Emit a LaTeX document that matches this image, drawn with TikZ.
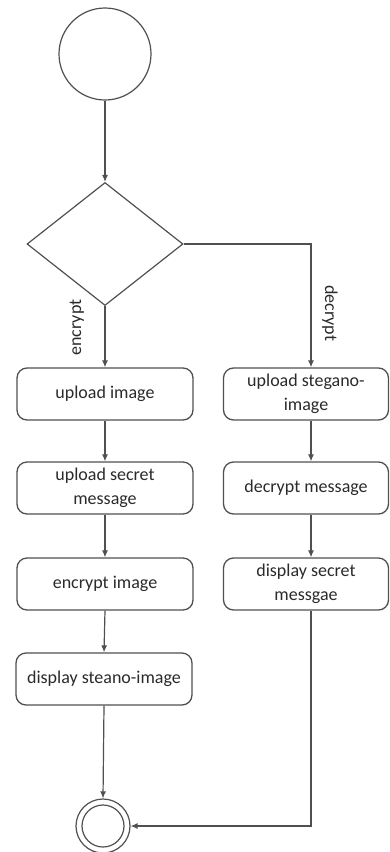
\documentclass[tikz,border=0pt]{standalone}
\usepackage{fontspec}
\setmainfont{Carlito}
\usetikzlibrary{shapes.geometric,arrows.meta,calc}
\definecolor{ln}{HTML}{505050}
\definecolor{tx}{HTML}{2A2A2A}
\begin{document}
\begin{tikzpicture}[x=1pt,y=-1pt,
  every node/.style={font=\fontsize{18}{24}\selectfont, text=tx},
  act/.style={draw=ln, line width=1.3pt, rounded corners=10pt, minimum height=52pt, align=center, inner sep=2pt},
  conn/.style={draw=ln, line width=1.2pt, -{Latex[length=7pt,width=6pt]}},
  lbl/.style={font=\fontsize{18}{20}\selectfont, inner sep=0pt}]
\useasboundingbox (0,0) rectangle (390,852);
\node[draw=ln, line width=1.2pt, circle, minimum size=92pt, inner sep=0] (start) at (105,54) {};
\node[draw=ln, line width=1.2pt, diamond, minimum width=156pt, minimum height=123pt, inner sep=0] (dec) at (105,244) {};
\node[act, minimum width=176pt] (l1) at (105,394) {upload image};
\node[act, minimum width=176pt] (l2) at (105,488) {upload secret\\message};
\node[act, minimum width=176pt] (l3) at (105,584) {encrypt image};
\node[act, minimum width=176pt] (l4) at (104,679) {display steano-image};
\node[act, minimum width=165pt] (r1) at (306,394) {upload stegano-\\image};
\node[act, minimum width=165pt] (r2) at (306,488) {decrypt message};
\node[act, minimum width=165pt] (r3) at (306,584) {display secret\\messgae};
\node[draw=ln, line width=1.2pt, circle, minimum size=54pt, inner sep=0] (end) at (103,826) {};
\node[draw=ln, line width=1.2pt, circle, minimum size=42pt, inner sep=0] (endin) at (103,826) {};
\coordinate (rc) at (311,0);
\path[conn] (start.south) -- (dec.north);
\path[conn] (dec.south) -- node[lbl, pos=0.35, xshift=-28pt, rotate=90] {encrypt} (l1.north);
\path[conn] (dec.east) -- (dec.east -| rc) -- node[lbl, pos=0.56, xshift=19pt, rotate=-90] {decrypt} (r1.north -| rc);
\path[conn] (l1.south) -- (l2.north);
\path[conn] (l2.south) -- (l3.north);
\path[conn] (l3.south) -- (l4.north);
\path[conn] (l4.south) -- (end.north);
\path[conn] (r1.south -| rc) -- (r2.north -| rc);
\path[conn] (r2.south -| rc) -- (r3.north -| rc);
\path[conn] (r3.south -| rc) -- (rc |- end.east) -- (end.east);
\end{tikzpicture}
\end{document}
